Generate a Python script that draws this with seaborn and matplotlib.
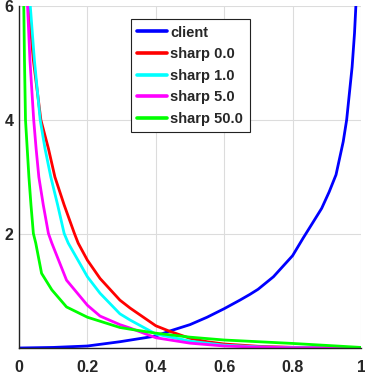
import matplotlib
matplotlib.use("Agg")
import matplotlib.pyplot as plt
import seaborn as sns
import pandas as pd

# ---- data ----
client_x = [0, 0.1, 0.2, 0.295, 0.4, 0.442, 0.5, 0.55, 0.6, 0.646, 0.675, 0.699, 0.744,
            0.8, 0.831, 0.856, 0.885, 0.907, 0.927, 0.948, 0.958, 0.974, 0.981, 0.985, 0.99]
client_y = [0, 0.01, 0.035, 0.11, 0.21, 0.30, 0.41, 0.54, 0.69, 0.84, 0.94, 1.03, 1.25,
            1.62, 1.93, 2.17, 2.45, 2.74, 3.04, 3.62, 4.0, 4.93, 5.52, 6.0, 7.0]

sharp0_x = [0.028, 0.042, 0.064, 0.086, 0.105, 0.132, 0.162, 0.173, 0.2, 0.237, 0.295,
            0.325, 0.4, 0.442, 0.5, 0.55, 0.6, 0.7, 0.8, 0.9, 1.0]
sharp0_y = [6.0, 5.05, 4.0, 3.5, 3.0, 2.51, 2.01, 1.84, 1.54, 1.22, 0.84,
            0.70, 0.39, 0.29, 0.17, 0.11, 0.07, 0.03, 0.012, 0.005, 0.0]

sharp1_x = [0.033, 0.045, 0.062, 0.076, 0.093, 0.113, 0.132, 0.144, 0.2, 0.237, 0.295,
            0.325, 0.4, 0.5, 0.6, 0.7, 0.8, 0.9, 1.0]
sharp1_y = [6.0, 5.05, 4.0, 3.5, 3.0, 2.51, 2.01, 1.84, 1.25, 0.96, 0.60,
            0.49, 0.245, 0.12, 0.05, 0.02, 0.008, 0.003, 0.0]

sharp5_x = [0.025, 0.032, 0.043, 0.050, 0.058, 0.071, 0.086, 0.096, 0.139, 0.2, 0.237,
            0.295, 0.325, 0.4, 0.5, 0.6, 0.7, 0.8, 0.9, 1.0]
sharp5_y = [6.0, 5.05, 4.0, 3.5, 3.0, 2.51, 2.01, 1.84, 1.19, 0.75, 0.56,
            0.41, 0.35, 0.18, 0.085, 0.035, 0.015, 0.005, 0.002, 0.0]

sharp50_x = [0.014, 0.016, 0.019, 0.024, 0.029, 0.035, 0.042, 0.049, 0.066, 0.096, 0.139,
             0.2, 0.295, 0.325, 0.4, 0.5, 0.6, 0.7, 0.8, 0.9, 1.0]
sharp50_y = [6.0, 5.05, 4.0, 3.5, 3.0, 2.51, 2.01, 1.84, 1.31, 1.02, 0.72,
             0.54, 0.36, 0.33, 0.26, 0.19, 0.14, 0.11, 0.08, 0.045, 0.01]

labels = ["client", "sharp 0.0", "sharp 1.0", "sharp 5.0", "sharp 50.0"]
colors = ["#0000ff", "#ff0000", "#00ffff", "#ff00ff", "#00ff00"]
xticks = [0, 0.2, 0.4, 0.6, 0.8, 1]
xticklabels = ["0", "0.2", "0.4", "0.6", "0.8", "1"]
yticks = [2, 4, 6]
yticklabels = ["2", "4", "6"]

series = [(client_x, client_y), (sharp0_x, sharp0_y), (sharp1_x, sharp1_y),
          (sharp5_x, sharp5_y), (sharp50_x, sharp50_y)]

sns.set_style("white")
plt.rcParams['font.family'] = ['Liberation Sans', 'DejaVu Sans']

fig = plt.figure(figsize=(3.65, 3.75), dpi=100)
ax = fig.add_axes([19 / 365, 27 / 375, 342 / 365, 342 / 375])

for (xs, ys), lab, col in zip(series, labels, colors):
    df = pd.DataFrame({"x": xs, "y": ys})
    sns.lineplot(data=df, x="x", y="y", ax=ax, color=col, linewidth=2.0,
                 label=lab, sort=False, estimator=None)

ax.set_xlim(0, 1)
ax.set_ylim(0, 6)
ax.set_xticks(xticks)
ax.set_xticklabels(xticklabels)
ax.set_yticks(yticks)
ax.set_yticklabels(yticklabels)
ax.set_xlabel("")
ax.set_ylabel("")
ax.grid(True, color="#dcdcdc", linewidth=0.8)
ax.set_axisbelow(True)
for s in ["top", "right"]:
    ax.spines[s].set_visible(False)
for s in ["left", "bottom"]:
    ax.spines[s].set_color("#222222")
    ax.spines[s].set_linewidth(1.0)
ax.tick_params(axis="both", direction="in", length=3, width=0.8, colors="#222222",
               labelsize=11.5, labelcolor="#262626")
ax.tick_params(axis="x", pad=9)
ax.tick_params(axis="y", pad=4)
for t in ax.get_xticklabels() + ax.get_yticklabels():
    t.set_fontweight("bold")

leg = ax.legend(loc="upper left", bbox_to_anchor=(0.327, 0.962), fancybox=False,
                edgecolor="#222222", framealpha=1, prop={"weight": "bold", "size": 10.5},
                handlelength=2.0, labelspacing=0.52, borderpad=0.45, handletextpad=0.25,
                borderaxespad=0)
leg.get_frame().set_linewidth(0.8)
for line in leg.get_lines():
    line.set_linewidth(2.6)

fig.savefig("out.png", dpi=100)
